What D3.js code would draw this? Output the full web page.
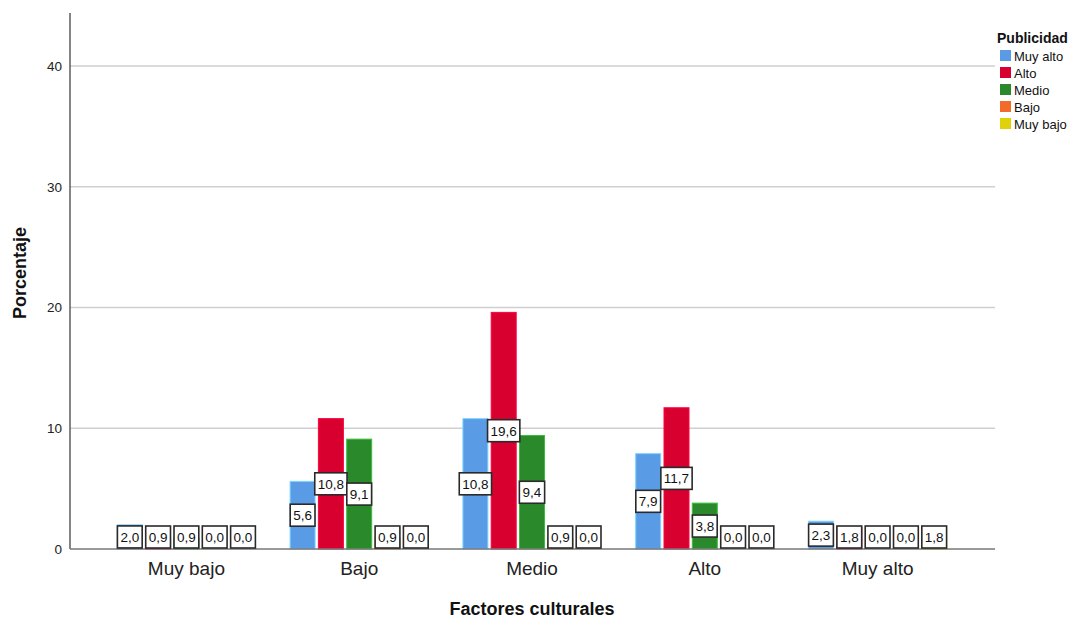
<!DOCTYPE html>
<html>
<head>
<meta charset="utf-8">
<script src="https://cdn.jsdelivr.net/npm/d3@7"></script>
<style>
  html, body { margin: 0; padding: 0; background: #fff; }
  svg { display: block; font-family: Arial, "Liberation Sans", sans-serif; }
</style>
</head>
<body>
<svg id="chart" width="1072" height="619"></svg>
<script>
// Factores culturales (x) grouped by Publicidad (series), values in %
const categories = ["Muy bajo", "Bajo", "Medio", "Alto", "Muy alto"];
const seriesNames = ["Muy alto", "Alto", "Medio", "Bajo", "Muy bajo"];
const seriesColors = ["#5A9BE5", "#D8002F", "#2A8A2B", "#F26B2A", "#E0D20A"];
const muyAlto = [2.0, 5.6, 10.8, 7.9, 2.3];
const alto    = [0.9, 10.8, 19.6, 11.7, 1.8];
const medio   = [0.9, 9.1, 9.4, 3.8, 0.0];
const bajo    = [0.0, 0.9, 0.9, 0.0, 0.0];
const muyBajo = [0.0, 0.0, 0.0, 0.0, 1.8];
const yTicks = [0, 10, 20, 30, 40];

const seriesValues = [muyAlto, alto, medio, bajo, muyBajo];

const svg = d3.select("#chart");
const plotLeft = 70, plotRight = 995, plotTop = 13, plotBottom = 549;

const y = d3.scaleLinear().domain([0, 44.4]).range([plotBottom, plotTop]);
const x0 = d3.scaleBand().domain(categories).range([100, 964]);
const groupWidth = 138.2;
const x1 = d3.scaleBand().domain(seriesNames).range([0, groupWidth]).paddingInner(0.117);
const color = d3.scaleOrdinal().domain(seriesNames).range(seriesColors);

// gridlines
svg.append("g")
  .selectAll("line")
  .data(yTicks.filter(t => t > 0))
  .join("line")
  .attr("x1", plotLeft).attr("x2", plotRight)
  .attr("y1", d => y(d)).attr("y2", d => y(d))
  .attr("stroke", "#cfcfcf").attr("stroke-width", 1.5);

// y axis
const yAxis = svg.append("g")
  .attr("transform", `translate(${plotLeft},0)`)
  .call(d3.axisLeft(y).tickValues(yTicks).tickSize(0).tickPadding(8).tickFormat(d3.format("d")));
yAxis.select(".domain").remove();
yAxis.selectAll("text").attr("font-size", 13.5).attr("fill", "#222")
  .attr("font-family", "Arial, 'Liberation Sans', sans-serif");

// x axis labels
const xAxis = svg.append("g")
  .attr("transform", `translate(0,${plotBottom})`)
  .call(d3.axisBottom(x0).tickSize(0).tickPadding(13));
xAxis.select(".domain").remove();
xAxis.selectAll("text").attr("font-size", 19).attr("fill", "#222")
  .attr("font-family", "Arial, 'Liberation Sans', sans-serif");

// flat records for bars
const records = [];
categories.forEach((c, ci) => {
  seriesNames.forEach((s, si) => {
    records.push({ cat: c, series: s, value: seriesValues[si][ci] });
  });
});
const barX = d => x0(d.cat) + (x0.bandwidth() - groupWidth) / 2 + x1(d.series);

// bars
svg.append("g")
  .selectAll("rect")
  .data(records.filter(d => d.value > 0))
  .join("rect")
  .attr("x", barX)
  .attr("width", x1.bandwidth())
  .attr("y", d => y(d.value))
  .attr("height", d => y(0) - y(d.value))
  .attr("fill", d => color(d.series))
  .attr("stroke", d => d3.color(color(d.series)).brighter(0.9))
  .attr("stroke-width", 1);

// axis lines
svg.append("line")
  .attr("x1", plotLeft).attr("x2", plotLeft)
  .attr("y1", plotTop).attr("y2", plotBottom)
  .attr("stroke", "#444").attr("stroke-width", 1.3);
svg.append("line")
  .attr("x1", plotLeft).attr("x2", plotRight)
  .attr("y1", plotBottom).attr("y2", plotBottom)
  .attr("stroke", "#777").attr("stroke-width", 1.5);

// value labels in boxes
const fmt = v => v.toFixed(1).replace(".", ",");
const labels = svg.append("g")
  .selectAll("g")
  .data(records)
  .join("g")
  .attr("transform", d => {
    const cx = barX(d) + x1.bandwidth() / 2;
    const mid = (y(d.value) + y(0)) / 2;
    const cy = Math.min(mid, y(0) - 12);
    return `translate(${cx},${cy})`;
  });
labels.append("text")
  .attr("text-anchor", "middle")
  .attr("dy", "0.36em")
  .attr("font-size", 13.5)
  .attr("fill", "#111")
  .text(d => fmt(d.value));
labels.each(function () {
  const g = d3.select(this);
  const bb = g.select("text").node().getBBox();
  const w = bb.width + 6, h = 22;
  g.insert("rect", "text")
    .attr("x", -w / 2).attr("y", -h / 2)
    .attr("width", w).attr("height", h)
    .attr("fill", "#fff")
    .attr("stroke", "#2a2a2a")
    .attr("stroke-width", 1.6);
});

// axis titles
svg.append("text")
  .attr("x", 532).attr("y", 615)
  .attr("text-anchor", "middle")
  .attr("font-size", 18).attr("font-weight", "bold").attr("fill", "#111")
  .text("Factores culturales");
svg.append("text")
  .attr("transform", "translate(26,273) rotate(-90)")
  .attr("text-anchor", "middle")
  .attr("font-size", 18).attr("font-weight", "bold").attr("fill", "#111")
  .text("Porcentaje");

// legend
const legend = svg.append("g").attr("transform", "translate(997,0)");
legend.append("text")
  .attr("x", 0).attr("y", 43)
  .attr("font-size", 14).attr("font-weight", "bold").attr("fill", "#111")
  .text("Publicidad");
const items = legend.selectAll("g.item")
  .data(seriesNames)
  .join("g")
  .attr("class", "item")
  .attr("transform", (d, i) => `translate(0,${50 + i * 17})`);
items.append("rect")
  .attr("x", 3).attr("y", 0).attr("width", 11).attr("height", 11)
  .attr("fill", d => color(d));
items.append("text")
  .attr("x", 17).attr("y", 10.5)
  .attr("font-size", 13).attr("fill", "#111")
  .text(d => d);
</script>
</body>
</html>
